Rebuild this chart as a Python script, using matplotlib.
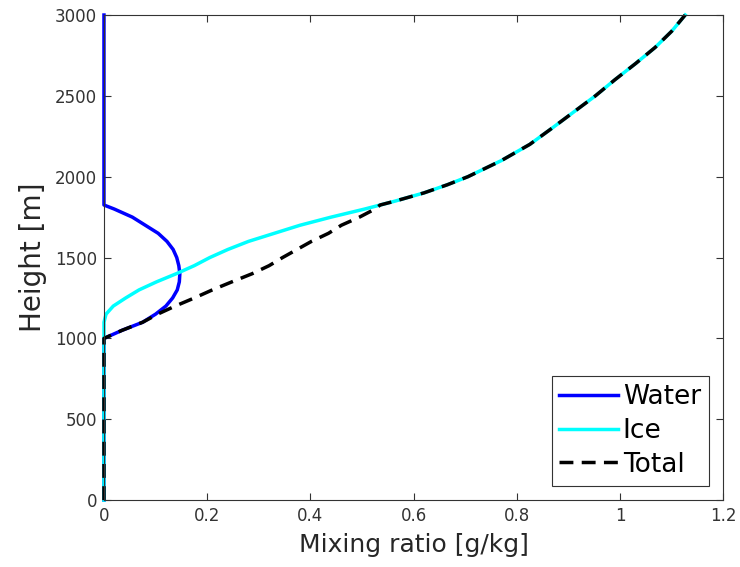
import matplotlib
matplotlib.use("Agg")
import matplotlib.pyplot as plt
import numpy as np

# height levels [m]
height = [0, 1000, 1050, 1100, 1150, 1200, 1250, 1300, 1350, 1400, 1450,
          1500, 1550, 1600, 1650, 1700, 1750, 1800, 1825, 1850, 1900, 1950,
          2000, 2100, 2200, 2300, 2400, 2500, 2600, 2700, 2800, 2900, 3000]

# mixing ratios [g/kg]
water = [0, 0, 0.035, 0.075, 0.100, 0.120, 0.133, 0.142, 0.146, 0.147, 0.145,
         0.141, 0.134, 0.122, 0.105, 0.080, 0.055, 0.020, 0, 0, 0, 0,
         0, 0, 0, 0, 0, 0, 0, 0, 0, 0, 0]
ice = [0, 0, 0, 0, 0.004, 0.018, 0.042, 0.068, 0.102, 0.140, 0.175,
       0.205, 0.240, 0.280, 0.330, 0.380, 0.440, 0.505, 0.535, 0.565, 0.620, 0.665,
       0.705, 0.770, 0.825, 0.868, 0.910, 0.952, 0.990, 1.030, 1.068, 1.100, 1.126]

total = np.array(water) + np.array(ice)

xticks = [0, 0.2, 0.4, 0.6, 0.8, 1.0, 1.2]
xticklabels = ["0", "0.2", "0.4", "0.6", "0.8", "1", "1.2"]
yticks = [0, 500, 1000, 1500, 2000, 2500, 3000]

fig = plt.figure(figsize=(7.4, 5.67), dpi=100)
ax = fig.add_axes([0.1405, 0.118, 0.837, 0.8555])

ax.plot(water, height, color="#0000ff", lw=2.5, label="Water", clip_on=False)
ax.plot(ice, height, color="#00ffff", lw=2.5, label="Ice", clip_on=False)
ax.plot(total, height, color="black", lw=2.5, dashes=(4, 2.4), label="Total",
        clip_on=False)

ax.set_xlim(0, 1.2)
ax.set_ylim(0, 3000)
ax.set_xticks(xticks)
ax.set_xticklabels(xticklabels)
ax.set_yticks(yticks)
ax.tick_params(direction="in", top=True, right=True, length=5, width=0.8,
               labelsize=12, labelcolor="#333333", color="#333333", pad=5)
for side in ax.spines.values():
    side.set_color("#333333")
    side.set_linewidth(0.8)

ax.set_xlabel("Mixing ratio [g/kg]", fontsize=18, color="#262626", labelpad=6)
ax.set_ylabel("Height [m]", fontsize=20, color="#262626", labelpad=6)

leg = ax.legend(loc="lower right", fontsize=19, handlelength=2.2,
                handletextpad=0.2, borderpad=0.3, labelspacing=0.3,
                fancybox=False, framealpha=1, borderaxespad=0.55)
leg.get_frame().set_edgecolor("#333333")
leg.get_frame().set_linewidth(0.8)

fig.savefig("out.png", dpi=100)
